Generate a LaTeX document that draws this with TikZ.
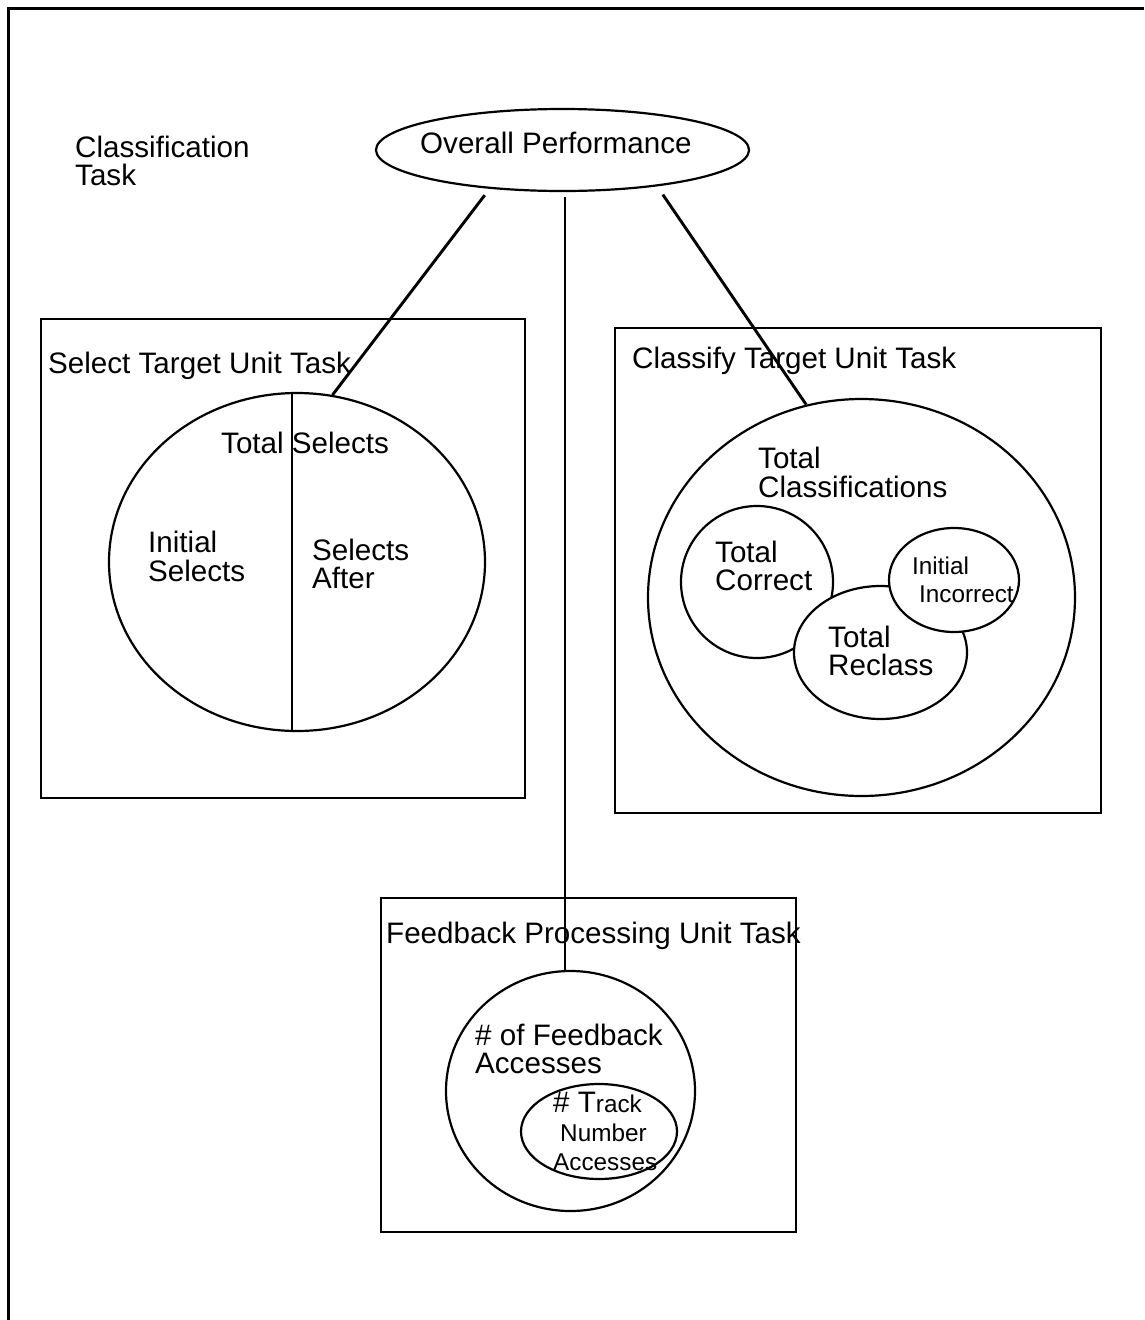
\documentclass[tikz,border=0pt]{standalone}
\usepackage{fontspec}
\setmainfont{Liberation Sans}
\usetikzlibrary{shapes.geometric}

% stack of \hbox lines whose baseline is the first line's baseline
\newcommand{\linesof}[2][29pt]{\vtop{\baselineskip=#1\lineskiplimit=-50pt\lineskip=0pt #2}}
\newcommand{\smallfs}{\fontsize{24.3}{28}\selectfont}

\tikzset{
  box/.style={draw, line width=2pt, rectangle, inner sep=0pt, anchor=north west},
  oval/.style={draw, line width=2.2pt, ellipse, inner sep=0pt, fill=white},
  lbl/.style={anchor=base west, inner sep=0pt, font=\fontsize{29.6}{29}\selectfont},
  small/.style={font=\smallfs},
  conn/.style={line width=2.9pt},
  stemline/.style={line width=2.2pt},
}

\begin{document}
\begin{tikzpicture}[x=1pt, y=1pt]
\useasboundingbox (0,0) rectangle (1144,-1320);

% page frame (top and left edges)
\draw[line width=3pt] (1144,-8) -- (8,-8) -- (8,-1320);

% unit task boxes
\node[box, minimum width=484pt, minimum height=479pt] (selB) at (40,-318) {};
\node[box, minimum width=486pt, minimum height=485pt] (clsB) at (614,-327) {};
\node[box, minimum width=415pt, minimum height=334pt] (fbB)  at (380,-897) {};

% top-level measure
\node[oval, minimum width=373pt, minimum height=82pt] (op) at (562.5,-150) {};

% select target measures
\node[oval, minimum width=376pt, minimum height=338pt] (selE) at (297,-562) {};
\draw[line width=2.2pt] ([xshift=-5pt]selE.north) -- ([xshift=-5pt]selE.south);

% classify target measures
\node[oval, minimum width=427pt, minimum height=397pt] (clsE) at (861.5,-597.5) {};
\node[oval, minimum width=152pt, minimum height=152pt] (corE) at (757,-582) {};
\node[oval, minimum width=173pt, minimum height=133pt] (recE) at (880.5,-652.5) {};
\node[oval, minimum width=130pt, minimum height=104pt] (incE) at (954,-580) {};

% feedback processing measures
\node[oval, minimum width=249pt, minimum height=240pt] (fbE) at (570.5,-1091) {};
\node[oval, minimum width=156pt, minimum height=95pt] (trkE) at (599,-1131.5) {};

% connectors from the overall measure
\draw[conn, shorten <=8pt] (op.208) -- (selE.78.6);
\draw[conn, shorten <=10pt] (op.339) -- (clsE.106);
\coordinate (stem) at (565,-197);
\draw[stemline] (stem) -- (stem |- fbE.north);

% labels
\node[lbl] (ctask) at (75,-157) {\linesof[28pt]{\hbox{Classification}\hbox{Task}}};
\node[lbl] (opT) at (420,-153) {Overall Performance};

\node[lbl] (selT) at (48,-373) {Select Target Unit Task};
\node[lbl] (totSel) at (221,-453) {Total Selects};
\node[lbl] (iniSel) at (148,-552) {\linesof{\hbox{Initial}\hbox{Selects}}};
\node[lbl] (selAft) at (312,-560) {\linesof[28pt]{\hbox{Selects}\hbox{After}}};

\node[lbl] (clsT) at (632,-368) {Classify Target Unit Task};
\node[lbl] (totCls) at (758,-468) {\linesof{\hbox{Total}\hbox{Classifications}}};
\node[lbl] (totCor) at (715,-562) {\linesof[28pt]{\hbox{Total}\hbox{Correct}}};
\node[lbl, small] (incT) at (912,-574) {\linesof[28pt]{\hbox{Initial}\hbox{\hspace{7pt}Incorrect}}};
\node[lbl] (recT) at (828,-647) {\linesof[28pt]{\hbox{Total}\hbox{Reclass}}};

\node[lbl] (fbT) at (386,-943) {Feedback Processing Unit Task};
\node[lbl] (fbA) at (475,-1045) {\linesof[28pt]{\hbox{\# of Feedback}\hbox{Accesses}}};
\node[lbl] (trkT) at (553,-1112) {\linesof[29pt]{\hbox{\# T{\smallfs rack}}\hbox{\smallfs\hspace{7pt}Number}\hbox{\smallfs Accesses}}};
\end{tikzpicture}
\end{document}
